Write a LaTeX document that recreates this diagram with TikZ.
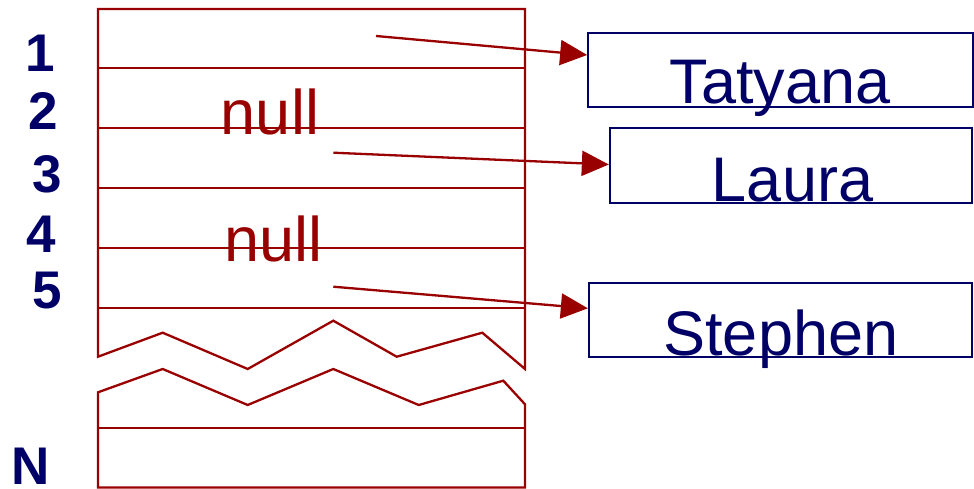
\documentclass[tikz,border=0pt]{standalone}
\usepackage{fontspec}
\setmainfont{Liberation Sans}
\usetikzlibrary{arrows.meta}
\definecolor{arr}{HTML}{990000}
\definecolor{nv}{HTML}{000066}
\tikzset{
  arrline/.style={draw=arr, line width=2.3pt, line join=miter},
  namebox/.style={draw=nv, line width=2.3pt, inner sep=0pt},
  bigtext/.style={inner sep=0pt, anchor=base, font=\fontsize{63}{63}\selectfont},
  idx/.style={inner sep=0pt, anchor=base, text=nv, font=\fontsize{53}{53}\selectfont\bfseries},
  ptr/.style={draw=arr, line width=2.3pt, -{Triangle[length=27pt, width=25pt]}, color=arr},
}
\begin{document}
\begin{tikzpicture}[x=1pt, y=-1pt]
\useasboundingbox (0,0) rectangle (974,489);
% array upper part
\draw[arrline] (98,356.7) -- (98,9) -- (525,9) -- (525,369)
  -- (482.3,332.7) -- (396.7,356.7) -- (333.3,320.7) -- (247.7,369) -- (162.7,332.7) -- cycle;
\foreach \yy in {68,128,188,248,308} \draw[arrline] (98,\yy) -- (525,\yy);
% array lower part
\draw[arrline] (98,392.3) -- (162.7,369) -- (247.7,405) -- (333.3,369) -- (418.7,405) -- (503.3,380.7) -- (525,404.3)
  -- (525,487.5) -- (98,487.5) -- cycle;
\draw[arrline] (98,428.3) -- (525,428.3);
% indices
\node[idx] (i1) at (40,72) {1};
\node[idx] (i2) at (43,130) {2};
\node[idx] (i3) at (47.5,193) {3};
\node[idx] (i4) at (41.5,252) {4};
\node[idx] (i5) at (47.5,308) {5};
\node[idx] (iN) at (31,484) {N};
% null texts
\node[bigtext, text=arr] (n2) at (270,135) {null};
\node[bigtext, text=arr] (n4) at (273.7,261.7) {null};
% boxes
\node[namebox, minimum width=385pt, minimum height=74.6pt] (bt) at (780.8,70) {};
\node[namebox, minimum width=362pt, minimum height=75pt] (bl) at (791,165.5) {};
\node[namebox, minimum width=383pt, minimum height=74pt] (bs) at (780.5,320) {};
\node[bigtext, text=nv] (tt) at (780,103.3) {Tatyana};
\node[bigtext, text=nv] (tl) at (792.5,201.7) {Laura};
\node[bigtext, text=nv] (ts) at (780.8,355) {Stephen};
% pointers
\coordinate (p1) at (376,36);
\coordinate (p3) at (333.3,152.7);
\coordinate (p5) at (333.3,286.7);
\draw[ptr] (p1) -- ([yshift=15pt]bt.west);
\draw[ptr] (p3) -- ([yshift=1pt]bl.west);
\draw[ptr] (p5) -- ([yshift=11.7pt]bs.west);
\end{tikzpicture}
\end{document}
